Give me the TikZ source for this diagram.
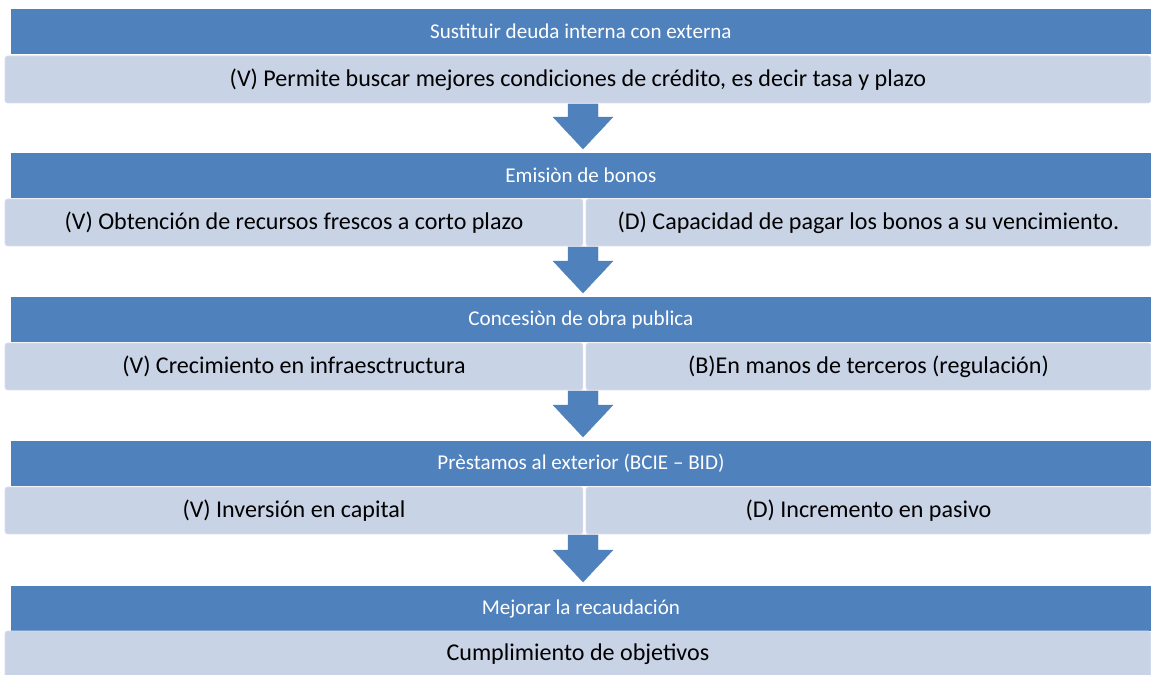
\documentclass[tikz,border=0pt]{standalone}
\usepackage{fontspec}
\setmainfont{Carlito}
\usetikzlibrary{positioning}

\definecolor{barra}{RGB}{79,129,189}
\definecolor{caja}{RGB}{201,211,230}
\definecolor{borde}{RGB}{216,222,235}

\begin{document}
\begin{tikzpicture} [x = 0.02cm, y = -0.02cm, outer sep = 0pt,
titulo/.style = {rectangle, fill = barra, text = white, anchor = north west,
  minimum width = 22.8cm, minimum height = 0.9cm, font = \fontsize{12}{14}\selectfont},
detalle/.style = {rectangle, rounded corners = 1.5pt, fill = caja, draw = borde, anchor = north west,
  minimum height = 0.94cm, font = \fontsize{13.7}{16}\selectfont},
ancha/.style = {detalle, minimum width = 22.92cm},
mitad/.style = {detalle, minimum width = 11.56cm},
resto/.style = {detalle, minimum width = 11.3cm},
flecha/.style = {every edge/.style = {draw = barra, fill = barra, line width = 0.2pt},
  to path = {([xshift = -0.3cm, yshift = -0.02cm]\tikztostart)
    -- ([xshift = 0.3cm, yshift = -0.02cm]\tikztostart)
    -- ([xshift = 0.3cm, yshift = 0.72cm]\tikztotarget)
    -- ([xshift = 0.6cm, yshift = 0.72cm]\tikztotarget)
    -- ([yshift = 0.08cm]\tikztotarget)
    -- ([xshift = -0.6cm, yshift = 0.72cm]\tikztotarget)
    -- ([xshift = -0.3cm, yshift = 0.72cm]\tikztotarget) -- cycle}}]

\useasboundingbox (0,0) rectangle (1151,675);
\coordinate (eje) at (583,0);

\node (t1) [titulo] at (11,9) {Sustituir deuda interna con externa};
\node (d1) [ancha] at (5,56) {(V) Permite buscar mejores condiciones de crédito, es decir tasa y plazo};

\node (t2) [titulo] at (11,153) {Emisiòn de bonos};
\node (d2a) [mitad] at (5,199) {(V) Obtención de recursos frescos a corto plazo};
\node (d2b) [resto] at (586,199) {(D) Capacidad de pagar los bonos a su vencimiento.};

\node (t3) [titulo] at (11,297) {Concesiòn de obra publica};
\node (d3a) [mitad] at (5,343) {(V) Crecimiento en infraesctructura};
\node (d3b) [resto] at (586,343) {(B)En manos de terceros (regulación)};

\node (t4) [titulo] at (11,441) {Prèstamos al exterior (BCIE – BID)};
\node (d4a) [mitad] at (5,487) {(V) Inversión en capital};
\node (d4b) [resto] at (586,487) {(D) Incremento en pasivo};

\node (t5) [titulo] at (11,586) {Mejorar la recaudación};
\node (d5) [ancha] at (5,631) {Cumplimiento de objetivos};

\path [flecha]
  (eje |- d1.south) edge (eje |- t2.north)
  (eje |- d2a.south) edge (eje |- t3.north)
  (eje |- d3a.south) edge (eje |- t4.north)
  (eje |- d4a.south) edge (eje |- t5.north);
\end{tikzpicture}
\end{document}
